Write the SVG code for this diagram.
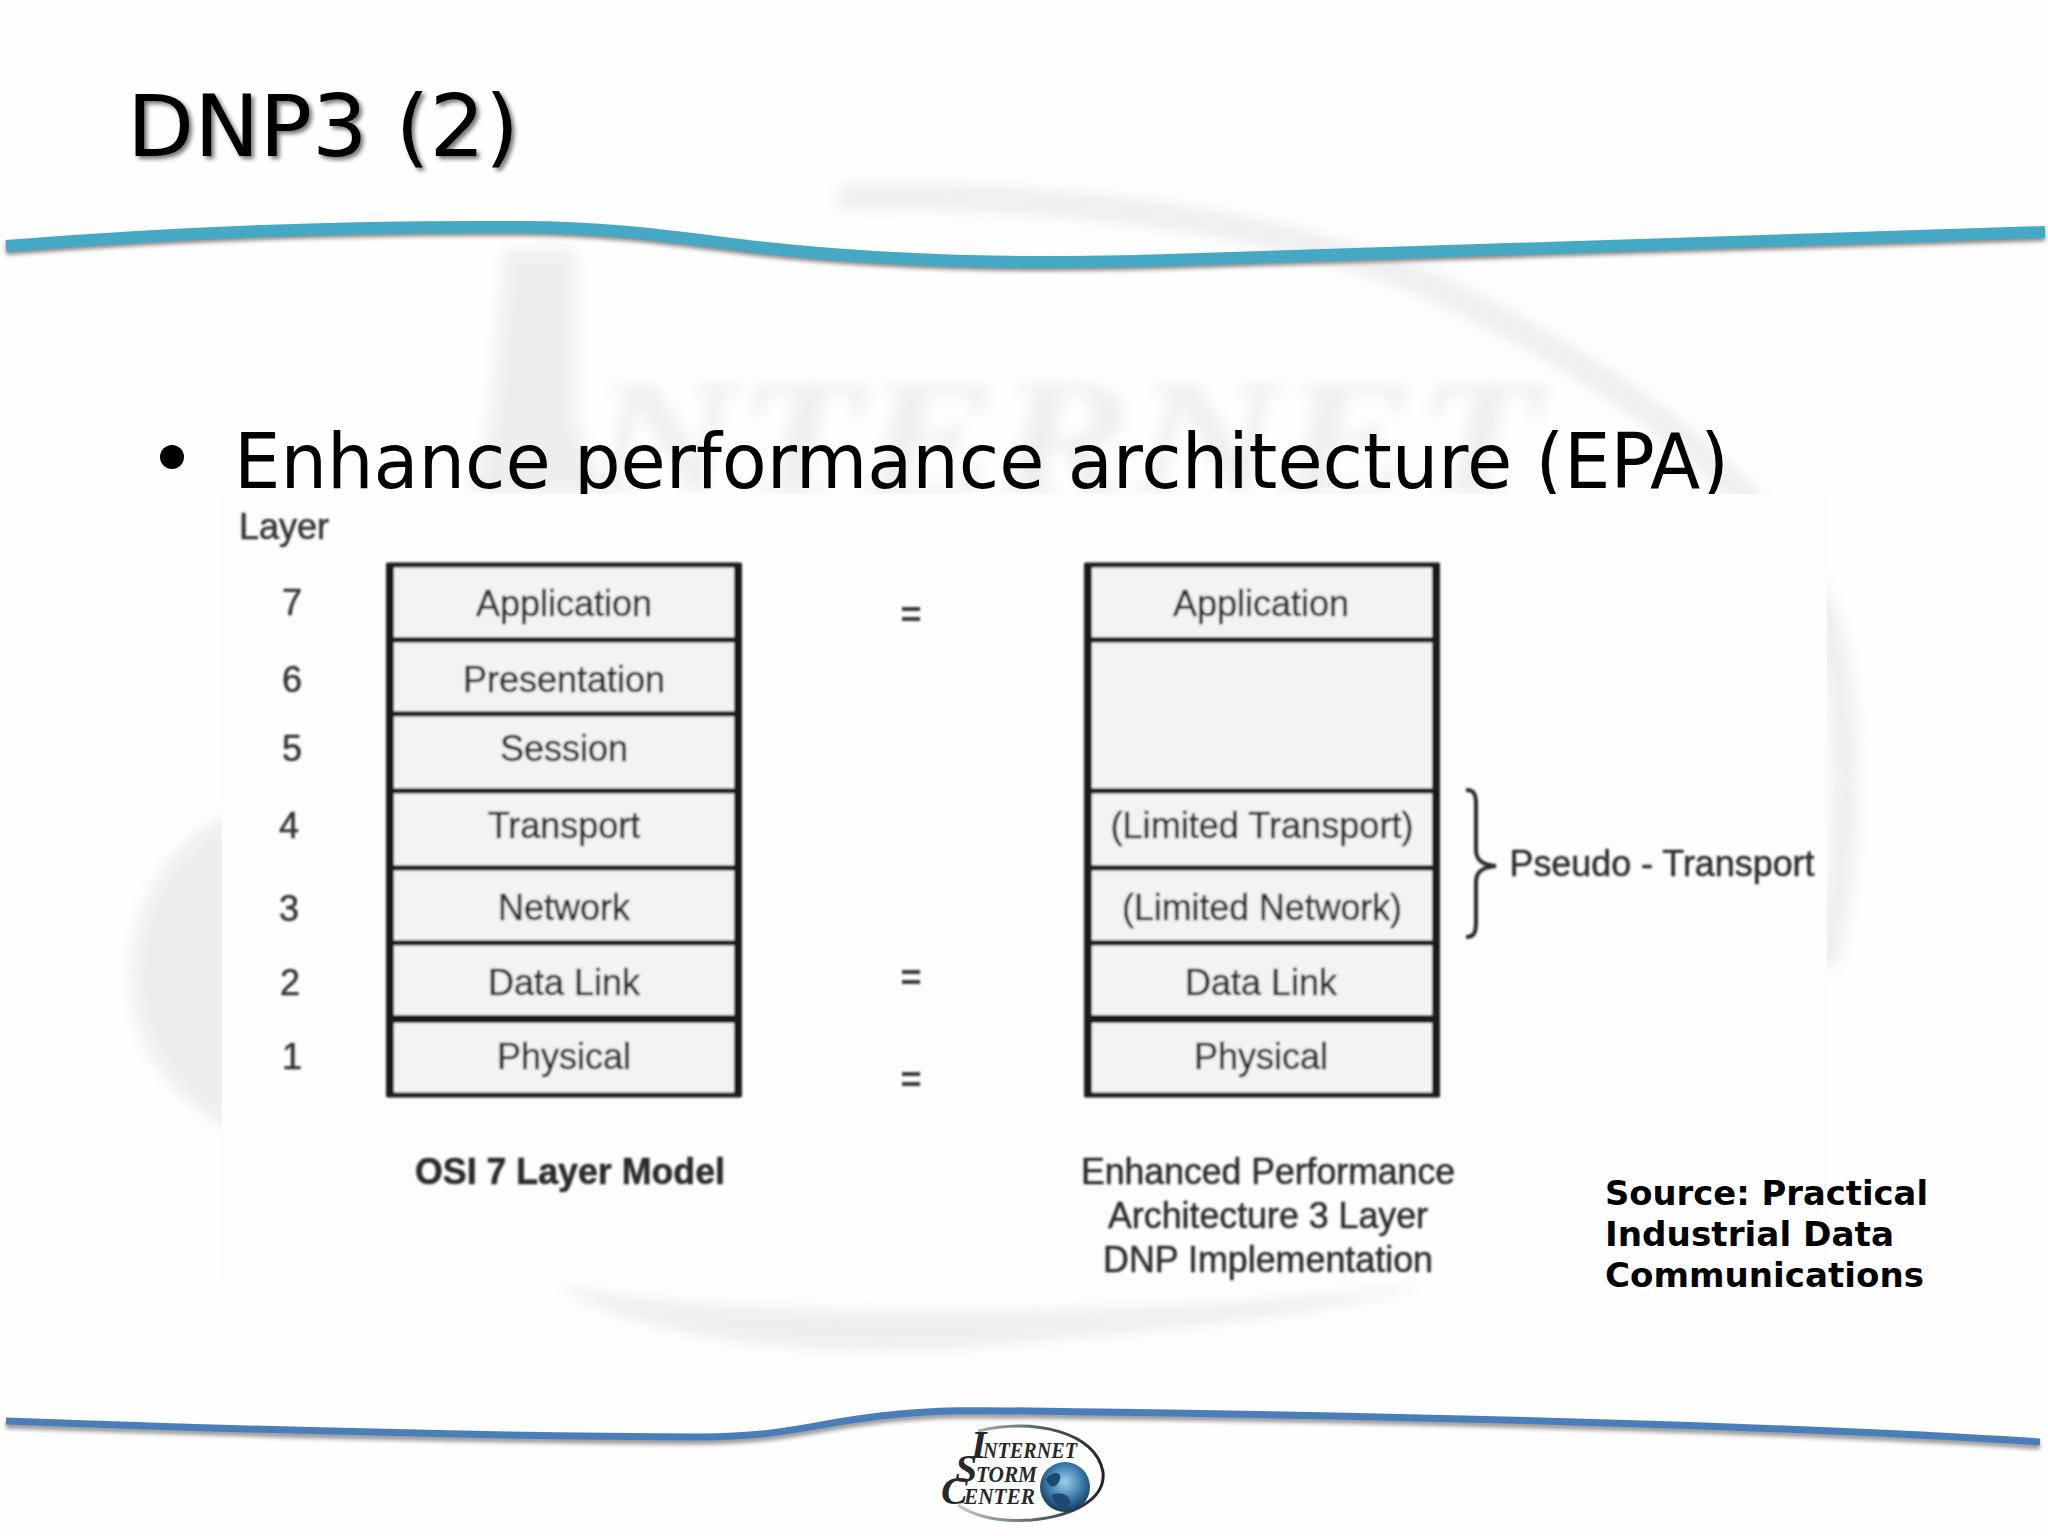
<svg xmlns="http://www.w3.org/2000/svg" width="2048" height="1536" viewBox="0 0 2048 1536">
<defs>
<filter id="wm" x="-20%" y="-20%" width="140%" height="140%"><feGaussianBlur stdDeviation="7"/></filter>
<filter id="soft" x="-5%" y="-20%" width="110%" height="140%"><feGaussianBlur stdDeviation="0.9"/></filter>
<filter id="sh" x="-5%" y="-30%" width="110%" height="160%"><feGaussianBlur stdDeviation="2"/></filter>
<radialGradient id="globe" cx="0.5" cy="0.4" r="0.6"><stop offset="0" stop-color="#9fd0ea"/><stop offset="0.55" stop-color="#3f7fae"/><stop offset="1" stop-color="#123a5c"/></radialGradient>
<linearGradient id="ring" x1="0" y1="0" x2="1" y2="0"><stop offset="0" stop-color="#c4cfcc"/><stop offset="0.5" stop-color="#5d6f6c"/><stop offset="1" stop-color="#222"/></linearGradient>
</defs>
<style>
.cell{fill:#f3f2f5;stroke:#1d1d1f;stroke-width:5}
.frame{stroke:#1d1d1f;stroke-width:8}
.t{font-family:"Liberation Sans",Arial,sans-serif;font-size:36px;fill:#2c2c2e;stroke:#2c2c2e;stroke-width:.5;text-anchor:middle}
.n{font-family:"Liberation Sans",Arial,sans-serif;font-size:36px;fill:#333;stroke:#333;stroke-width:.5;text-anchor:middle}
.eq{font-family:"Liberation Sans",Arial,sans-serif;font-size:36px;font-weight:bold;fill:#3a3a3c;text-anchor:middle}
.src{font-family:"DejaVu Sans",Verdana,sans-serif;font-weight:bold;font-size:34px;fill:#000}
.d{font-family:"DejaVu Sans",Verdana,sans-serif;fill:#000}
.lg{font-family:"Liberation Serif","Times New Roman",serif;font-style:italic;font-weight:bold;fill:#26282a}
</style>
<rect width="2048" height="1536" fill="#fefefe"/>
<g id="watermark" fill="#e9e9ec" filter="url(#wm)" opacity="0.75">
<path d="M850 197 C1050 195 1270 215 1440 290 C1640 385 1780 500 1826 620 C1850 690 1852 860 1826 955" fill="none" stroke="#e9e9ec" stroke-width="26" stroke-linecap="round"/>
<path d="M505 250 L575 250 L575 420 L608 494 L470 494 L490 420 Z"/>
<text x="590" y="494" font-family="Liberation Serif,serif" font-style="italic" font-weight="bold" font-size="165" textLength="950" lengthAdjust="spacingAndGlyphs">NTERNET</text>
<path d="M230 812 C160 850 131 910 131 975 C131 1050 175 1100 230 1130 Z"/>
<path d="M556 1285 C640 1340 820 1362 1000 1345 C1150 1330 1310 1320 1430 1283 C1310 1300 1150 1310 1000 1310 C850 1312 680 1310 556 1285 Z"/>
</g>
<g id="title">
<text class="d" x="130" y="159" font-size="85" textLength="392" lengthAdjust="spacingAndGlyphs" style="fill:#777" filter="url(#sh)">DNP3 (2)</text>
<text class="d" x="127" y="156" font-size="85" textLength="392" lengthAdjust="spacingAndGlyphs">DNP3 (2)</text>
</g>
<g id="top-swoosh" fill="none" stroke-width="12">
<path d="M6 249 C180 235 360 229 520 230 C600 230 660 238 740 248 C820 258 930 265 1040 265 C1100 265 1150 264 1200 262 C1500 254 1800 244 2045 235" stroke="#8a8a8a" filter="url(#sh)"/>
<path d="M6 246 C180 232 360 226 520 227 C600 227 660 235 740 245 C820 255 930 262 1040 262 C1100 262 1150 261 1200 259 C1500 251 1800 241 2045 232" stroke="#45a8c4"/>
</g>
<g id="bullet">
<circle cx="172" cy="457" r="12" fill="#000"/>
<text class="d" x="234" y="488" font-size="77" textLength="1495" lengthAdjust="spacingAndGlyphs">Enhance performance architecture (EPA)</text>
</g>
<rect id="panel" x="222" y="494" width="1605" height="789" fill="#fdfdfe"/>
<g id="osi-stack" filter="url(#soft)">
<g id="osi-application"><rect class="cell" x="390" y="565" width="348" height="75"/><text class="t" x="564" y="616">Application</text></g>
<g id="osi-presentation"><rect class="cell" x="390" y="640" width="348" height="74"/><text class="t" x="564" y="692">Presentation</text></g>
<g id="osi-session"><rect class="cell" x="390" y="714" width="348" height="77"/><text class="t" x="564" y="761">Session</text></g>
<g id="osi-transport"><rect class="cell" x="390" y="791" width="348" height="77"/><text class="t" x="564" y="838">Transport</text></g>
<g id="osi-network"><rect class="cell" x="390" y="868" width="348" height="75"/><text class="t" x="564" y="920">Network</text></g>
<g id="osi-datalink"><rect class="cell" x="390" y="943" width="348" height="76"/><text class="t" x="564" y="995">Data Link</text></g>
<g id="osi-physical"><rect class="cell" x="390" y="1019" width="348" height="76"/><text class="t" x="564" y="1069">Physical</text></g>
<path class="frame" d="M390 563V1097M738 563V1097"/>
<line x1="390" y1="1019" x2="738" y2="1019" stroke="#1d1d1f" stroke-width="8"/>
</g>
<g id="epa-stack" filter="url(#soft)">
<g id="epa-application"><rect class="cell" x="1088" y="565" width="348" height="75"/><text class="t" x="1261" y="616">Application</text></g>
<g id="epa-empty"><rect class="cell" x="1088" y="640" width="348" height="151"/></g>
<g id="epa-transport"><rect class="cell" x="1088" y="791" width="348" height="77"/><text class="t" x="1262" y="838" textLength="303" lengthAdjust="spacingAndGlyphs">(Limited Transport)</text></g>
<g id="epa-network"><rect class="cell" x="1088" y="868" width="348" height="75"/><text class="t" x="1262" y="920" textLength="280" lengthAdjust="spacingAndGlyphs">(Limited Network)</text></g>
<g id="epa-datalink"><rect class="cell" x="1088" y="943" width="348" height="76"/><text class="t" x="1261" y="995">Data Link</text></g>
<g id="epa-physical"><rect class="cell" x="1088" y="1019" width="348" height="76"/><text class="t" x="1261" y="1069">Physical</text></g>
<path class="frame" d="M1088 563V1097M1436 563V1097"/>
<line x1="1088" y1="1019" x2="1436" y2="1019" stroke="#1d1d1f" stroke-width="8"/>
</g>
<g id="labels" filter="url(#soft)">
<text class="n" x="284" y="539">Layer</text>
<text class="n" x="292" y="615">7</text>
<text class="n" x="292" y="692">6</text>
<text class="n" x="292" y="761">5</text>
<text class="n" x="289" y="838">4</text>
<text class="n" x="289" y="921">3</text>
<text class="n" x="290" y="995">2</text>
<text class="n" x="292" y="1069">1</text>
<text class="eq" x="911" y="627">=</text>
<text class="eq" x="911" y="990">=</text>
<text class="eq" x="911" y="1092">=</text>
<text class="t" x="570" y="1184" font-weight="bold" textLength="310" lengthAdjust="spacingAndGlyphs">OSI 7 Layer Model</text>
<text class="t" x="1268" y="1184" textLength="374" lengthAdjust="spacingAndGlyphs">Enhanced Performance</text>
<text class="t" x="1268" y="1228" textLength="320" lengthAdjust="spacingAndGlyphs">Architecture 3 Layer</text>
<text class="t" x="1268" y="1272" textLength="330" lengthAdjust="spacingAndGlyphs">DNP Implementation</text>
<text class="t" x="1662" y="876" textLength="305" lengthAdjust="spacingAndGlyphs">Pseudo - Transport</text>
</g>
<g id="connectors" fill="none" stroke="#2a2a2c" stroke-width="4" filter="url(#soft)">
<path d="M1466 790 C1474 790 1476 794 1476 804 L1476 850 C1476 860 1482 865 1496 866 C1482 867 1476 872 1476 882 L1476 922 C1476 933 1474 937 1466 937"/>
</g>
<g id="source">
<text class="src" x="1605" y="1205" textLength="323" lengthAdjust="spacingAndGlyphs">Source: Practical</text>
<text class="src" x="1605" y="1246" textLength="289" lengthAdjust="spacingAndGlyphs">Industrial Data</text>
<text class="src" x="1605" y="1287" textLength="319" lengthAdjust="spacingAndGlyphs">Communications</text>
</g>
<g id="bottom-swoosh" fill="none" stroke-width="7">
<path d="M6 1425 C250 1434 500 1440 700 1441 C790 1440 810 1428 880 1420 C950 1412 1000 1415 1100 1416 C1400 1420 1800 1430 2040 1446" stroke="#999" filter="url(#sh)"/>
<path d="M6 1421 C250 1430 500 1436 700 1437 C790 1436 810 1424 880 1416 C950 1408 1000 1411 1100 1412 C1400 1416 1800 1426 2040 1442" stroke="#4a7ebb"/>
</g>
<g id="logo">
<path d="M978 1431 C1035 1418 1096 1432 1103 1472 C1106 1500 1072 1516 1032 1520 C1000 1522 975 1517 958 1505" fill="none" stroke="url(#ring)" stroke-width="3"/>
<text class="lg" x="971" y="1458" font-size="40">I</text>
<text class="lg" x="983" y="1458" font-size="23" textLength="94" lengthAdjust="spacingAndGlyphs">NTERNET</text>
<text class="lg" x="955" y="1482" font-size="40">S</text>
<text class="lg" x="976" y="1482" font-size="23" textLength="61" lengthAdjust="spacingAndGlyphs">TORM</text>
<text class="lg" x="941" y="1504" font-size="40">C</text>
<text class="lg" x="964" y="1504" font-size="23" textLength="71" lengthAdjust="spacingAndGlyphs">ENTER</text>
<circle cx="1065" cy="1487" r="25" fill="url(#globe)"/>
<path d="M1046 1479 C1052 1471 1062 1471 1060 1479 C1058 1487 1050 1491 1046 1479 Z M1052 1495 C1062 1491 1072 1495 1070 1505 C1062 1511 1054 1505 1052 1495 Z" fill="#1c4a70"/>
</g>
</svg>
